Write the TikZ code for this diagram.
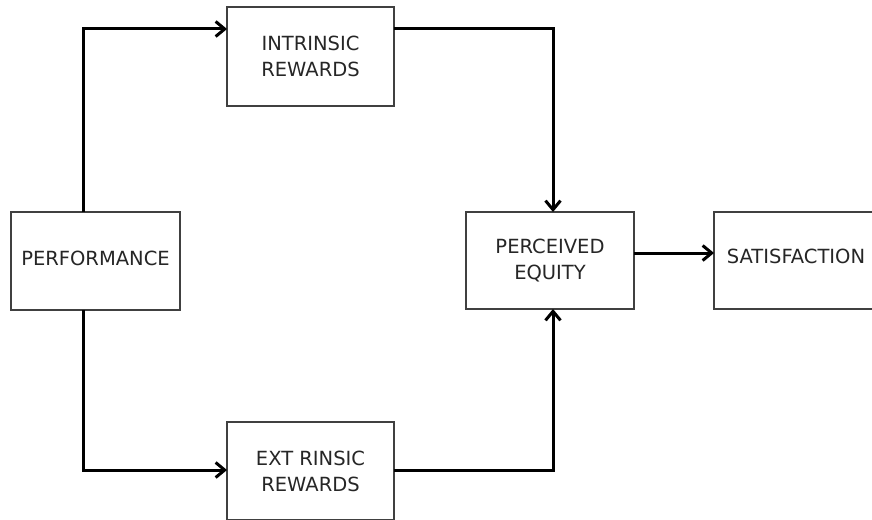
\documentclass[tikz,border=0pt]{standalone}
\usepackage{fontspec}
\setmainfont{DejaVu Sans}
\usetikzlibrary{arrows.meta,calc}
\begin{document}
\begin{tikzpicture}[x=1pt,y=-1pt,
  box/.style={draw=black!75, line width=1.6pt, fill=white, rectangle, outer sep=0pt,
    align=center, text=black!85, font=\fontsize{19.5}{26}\selectfont},
  conn/.style={line width=3pt, black, -{Straight Barb[length=9pt,width=15pt,line width=3pt]}}
]
\useasboundingbox (0,0) rectangle (872,519);
\clip (0,0) rectangle (872,519);
\node[box, minimum width=169pt, minimum height=98pt, text depth=5pt] (perf) at (95.5,261) {PERFORMANCE};
\node[box, minimum width=167pt, minimum height=99pt] (intr) at (310.5,56.5) {INTRINSIC\\REWARDS};
\node[box, minimum width=167pt, minimum height=98pt] (extr) at (310.5,471) {EXT RINSIC\\REWARDS};
\node[box, minimum width=168pt, minimum height=97pt] (eq) at (550,260.5) {PERCEIVED\\EQUITY};
\node[box, minimum width=164pt, minimum height=97pt, text depth=8pt] (sat) at (796,260.5) {SATISFACTION};
\draw[conn] ([xshift=-12.5pt]perf.north) |- ([yshift=27.5pt]intr.west);
\draw[conn] ([yshift=27.5pt]intr.east) -| ([xshift=3pt]eq.north);
\draw[conn] ([xshift=-12.5pt]perf.south) |- ([yshift=1pt]extr.west);
\draw[conn] ([yshift=1pt]extr.east) -| ([xshift=3pt]eq.south);
\draw[conn] ([yshift=7.5pt]eq.east) -- ([yshift=7.5pt]sat.west);
\end{tikzpicture}
\end{document}
